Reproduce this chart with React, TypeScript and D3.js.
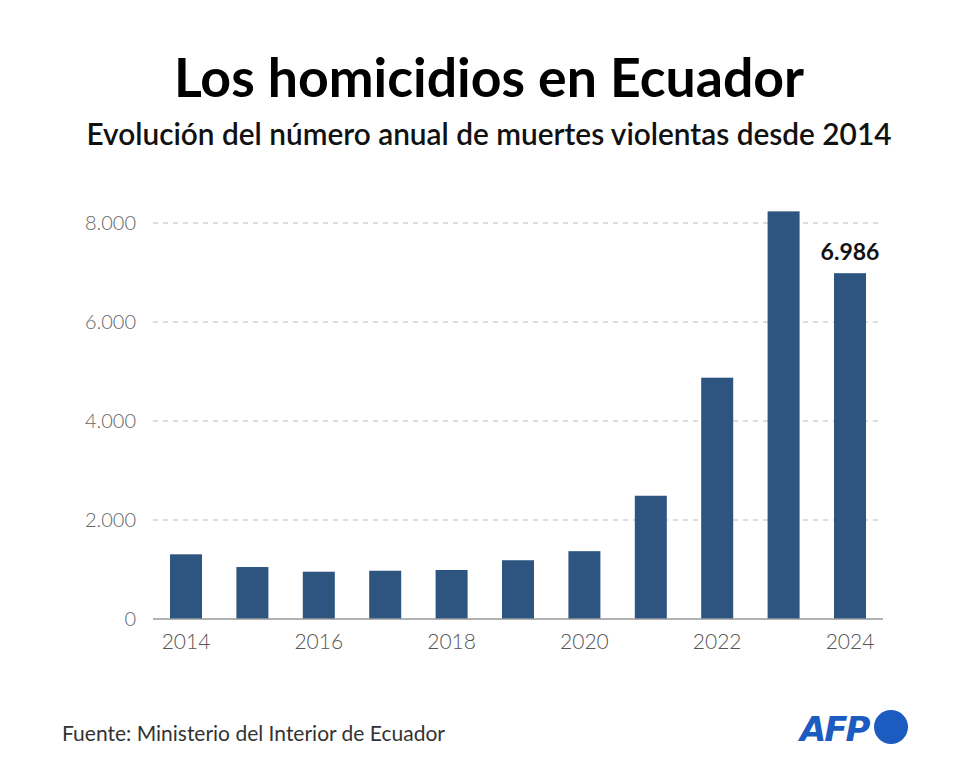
import React from "react";
import * as d3 from "d3";

const years = ["2014","2015","2016","2017","2018","2019","2020","2021","2022","2023","2024"];
const homicides = [1307, 1050, 955, 975, 990, 1187, 1370, 2490, 4875, 8235, 6986];
const yTicks = [0, 2000, 4000, 6000, 8000];
const xTickLabels = ["2014","2016","2018","2020","2022","2024"];
const title = "Los homicidios en Ecuador";
const subtitle = "Evolución del número anual de muertes violentas desde 2014";
const source = "Fuente: Ministerio del Interior de Ecuador";
const highlightLabel = "6.986";

const W = 980, H = 784;
const FONT = "Lato, 'Open Sans', sans-serif";

export default function App() {
  const x = d3.scaleBand<string>().domain(years).range([153, 883]).paddingInner(0.518).paddingOuter(0.256);
  const y = d3.scaleLinear().domain([0, 8000]).range([619, 223]);
  const fmt = (v: number) => d3.format(",")(v).replace(/,/g, ".");
  const last = years[years.length - 1];
  return (
    <svg width={W} height={H} style={{ position: "absolute", left: 0, top: 0, background: "#fff" }} fontFamily={FONT}>
      <rect width={W} height={H} fill="#fff" />
      <text x={489} y={97} textAnchor="middle" fontSize={53.6} fontWeight={700} fill="#000">{title}</text>
      <text x={489} y={145} textAnchor="middle" fontSize={29.8} fontWeight={600} fill="#111">{subtitle}</text>
      {yTicks.filter(t => t > 0).map(t => (
        <line key={"g" + t} x1={153} x2={880} y1={y(t)} y2={y(t)} stroke="#bbb" strokeWidth={1} strokeDasharray="5,5" />
      ))}
      {yTicks.map(t => (
        <text key={"yl" + t} x={136} y={y(t) + 7} textAnchor="end" fontSize={20} fontWeight={300} fill="#666">{fmt(t)}</text>
      ))}
      {years.map((yr, i) => (
        <rect key={yr} x={x(yr)} y={y(homicides[i])} width={x.bandwidth()} height={y(0) - y(homicides[i])} fill="#2d5580" />
      ))}
      <line x1={153} x2={883} y1={y(0)} y2={y(0)} stroke="#999" strokeWidth={1.5} />
      {xTickLabels.map(l => (
        <text key={"xl" + l} x={(x(l) as number) + x.bandwidth() / 2} y={649} textAnchor="middle" fontSize={21} fontWeight={300} fill="#555">{l}</text>
      ))}
      <text x={(x(last) as number) + x.bandwidth() / 2} y={y(homicides[homicides.length - 1]) - 13} textAnchor="middle" fontSize={23} fontWeight={700} fill="#111">{highlightLabel}</text>
      <text x={62} y={741} fontSize={21} fontWeight={400} fill="#333">{source}</text>
      <g>
        <text x={800} y={741} fontSize={34} fontWeight={900} fontStyle="italic" fill="#1c5bbf" fontFamily="'DejaVu Sans', sans-serif" letterSpacing={-2}>AFP</text>
        <circle cx={891} cy={727} r={17} fill="#1c5bbf" />
      </g>
    </svg>
  );
}
